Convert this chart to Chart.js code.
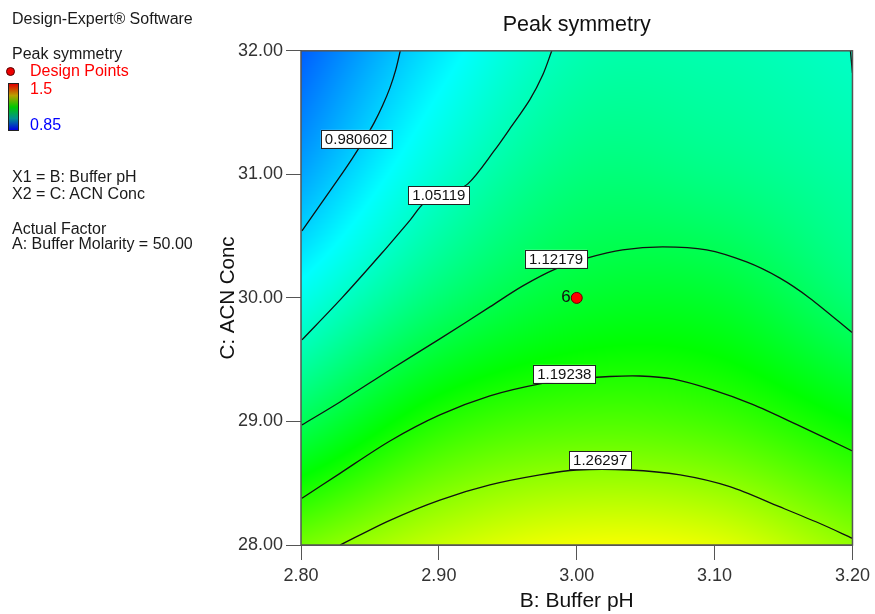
<!DOCTYPE html>
<html>
<head>
<meta charset="utf-8">
<title>Peak symmetry</title>
<script src="https://cdn.jsdelivr.net/npm/chart.js@4.4.0/dist/chart.umd.min.js"></script>
<style>
  body { margin: 0; background: #fff; font-family: "Liberation Sans", Arial, sans-serif; }
  #wrap { position: relative; width: 875px; height: 614px; }
  #side { position: absolute; left: 0; top: 0; width: 210px; height: 300px; font-size: 16px; color: #1a1a1a; }
  #side .t { position: absolute; white-space: nowrap; line-height: 18px; }
  #dot { position: absolute; left: 6px; top: 67px; width: 7px; height: 7px; border-radius: 50%; background: #e00; border: 1px solid #500; }
  #bar { position: absolute; left: 8px; top: 83px; width: 9px; height: 46px; border: 1px solid #222;
         background: linear-gradient(to bottom, #e00000, #b8a000, #00c800, #009090, #0000e0); }
</style>
</head>
<body>
<div id="wrap">
  <canvas id="plot" width="875" height="614"></canvas>
  <div id="side">
    <div class="t" style="left:12px; top:10px">Design-Expert® Software</div>
    <div class="t" style="left:12px; top:45px">Peak symmetry</div>
    <div id="dot"></div>
    <div class="t" style="left:30px; top:62px; color:#f00">Design Points</div>
    <div id="bar"></div>
    <div class="t" style="left:30px; top:80px; color:#f00">1.5</div>
    <div class="t" style="left:30px; top:116px; color:#00f">0.85</div>
    <div class="t" style="left:12px; top:168px">X1 = B: Buffer pH</div>
    <div class="t" style="left:12px; top:185px">X2 = C: ACN Conc</div>
    <div class="t" style="left:12px; top:220px">Actual Factor</div>
    <div class="t" style="left:12px; top:235px">A: Buffer Molarity = 50.00</div>
  </div>
</div>
<script>
// --- Ejes ---
const phTicks = [2.8, 2.9, 3.0, 3.1, 3.2];
const acnTicks = [28, 29, 30, 31, 32];

// --- Superficie: Peak symmetry en la malla pH x ACN (una fila por ACN, columnas por pH) ---
const symAcn28 = [1.250, 1.302, 1.330, 1.322, 1.268];
const symAcn29 = [1.119, 1.197, 1.224, 1.216, 1.175];
const symAcn30 = [1.024, 1.101, 1.144, 1.145, 1.100];
const symAcn31 = [0.955, 1.042, 1.095, 1.090, 1.070];
const symAcn32 = [0.910, 0.998, 1.060, 1.062, 1.048];
const symGrid = [symAcn28, symAcn29, symAcn30, symAcn31, symAcn32];

// Escala de color (0.85 azul ... 1.5 rojo)
const colorValues = [0.85, 1.0125, 1.175, 1.3375, 1.5];
const colorRGB = [[0, 0, 255], [0, 255, 255], [0, 255, 0], [255, 255, 0], [255, 0, 0]];

// --- Curvas de nivel (pH, ACN) ---
const contourLevels = ["0.980602", "1.05119", "1.12179", "1.19238", "1.26297"];
const line0980602 = [[2.8007, 30.543], [2.8144, 30.761], [2.8266, 30.955], [2.8370, 31.126], [2.8462, 31.287],
  [2.8530, 31.417], [2.8591, 31.555], [2.8645, 31.700], [2.8687, 31.846], [2.8720, 32.0]];
const line105119 = [[2.8007, 29.660], [2.8297, 30.000], [2.8587, 30.363], [2.8790, 30.628], [2.8899, 30.774],
  [2.9058, 30.842], [2.9210, 30.923], [2.9406, 31.198], [2.9514, 31.368], [2.9659, 31.603], [2.9754, 31.806],
  [2.9819, 32.0]];
const line105119b = [[3.1985, 32.0], [3.2, 31.82]];
const line112179 = [[2.8007, 28.972], [2.8283, 29.158], [2.8645, 29.417], [2.9007, 29.668], [2.937, 29.927],
  [2.9609, 30.097], [2.9848, 30.235], [3.008, 30.324], [3.0333, 30.389], [3.0623, 30.413], [3.0942, 30.389],
  [3.1232, 30.291], [3.1471, 30.162], [3.1688, 30.000], [3.2, 29.717]];
const line119238 = [[2.8007, 28.378], [2.8283, 28.580], [2.8645, 28.842], [2.9007, 29.053], [2.937, 29.207],
  [2.9732, 29.304], [3.0, 29.344], [3.0239, 29.364], [3.0457, 29.368], [3.0696, 29.344], [3.0986, 29.255],
  [3.1275, 29.138], [3.1594, 28.976], [3.2, 28.761]];
const line126297 = [[2.8283, 28.0], [2.8645, 28.200], [2.9007, 28.364], [2.937, 28.486], [2.9732, 28.567],
  [3.0, 28.607], [3.038, 28.607], [3.075, 28.567], [3.111, 28.472], [3.147, 28.310], [3.176, 28.176],
  [3.2, 28.054]];
const contourLines = [line0980602, line105119, line105119b, line112179, line119238, line126297];

// Donde va la etiqueta de cada nivel
const labelSpots = [[2.840, 31.287], [2.900, 30.830], [2.985, 30.316], [2.991, 29.385], [3.017, 28.688]];

// --- Puntos de diseño ---
const designPH = [3.00];
const designACN = [30.00];
const designCounts = ["6"];

// --- Interpolación de la malla ---
function gridAt(r, c) {
  if (r < 0) return 2 * gridAt(0, c) - gridAt(1, c);
  if (r > 4) return 2 * gridAt(4, c) - gridAt(3, c);
  if (c < 0) return 2 * gridAt(r, 0) - gridAt(r, 1);
  if (c > 4) return 2 * gridAt(r, 4) - gridAt(r, 3);
  return symGrid[r][c];
}

function cubic(p0, p1, p2, p3, t) {
  return p1 + 0.5 * t * (p2 - p0 + t * (2 * p0 - 5 * p1 + 4 * p2 - p3 + t * (3 * (p1 - p2) + p3 - p0)));
}

function sampleGrid(u, v) {
  const c = Math.min(3, Math.max(0, Math.floor(u)));
  const r = Math.min(3, Math.max(0, Math.floor(v)));
  const tu = u - c, tv = v - r;
  const rows = [];
  for (let k = -1; k <= 2; k++) {
    rows.push(cubic(gridAt(r + k, c - 1), gridAt(r + k, c), gridAt(r + k, c + 1), gridAt(r + k, c + 2), tu));
  }
  return cubic(rows[0], rows[1], rows[2], rows[3], tv);
}

function colorFor(val) {
  if (val <= colorValues[0]) return colorRGB[0];
  for (let i = 1; i < colorValues.length; i++) {
    if (val <= colorValues[i]) {
      const t = (val - colorValues[i - 1]) / (colorValues[i] - colorValues[i - 1]);
      const a = colorRGB[i - 1], b = colorRGB[i];
      return [a[0] + (b[0] - a[0]) * t, a[1] + (b[1] - a[1]) * t, a[2] + (b[2] - a[2]) * t];
    }
  }
  return colorRGB[colorRGB.length - 1];
}

// --- Plugins ---
const surfacePlugin = {
  id: "surface",
  beforeDatasetsDraw(chart) {
    const { ctx, chartArea: a, scales: { x, y } } = chart;
    const left = Math.round(a.left), top = Math.round(a.top);
    const w = Math.round(a.right) - left, h = Math.round(a.bottom) - top;
    const img = ctx.createImageData(w, h);
    const dx = phTicks[1] - phTicks[0], dy = acnTicks[1] - acnTicks[0];
    for (let j = 0; j < h; j++) {
      const v = (y.getValueForPixel(top + j + 0.5) - acnTicks[0]) / dy;
      for (let i = 0; i < w; i++) {
        const u = (x.getValueForPixel(left + i + 0.5) - phTicks[0]) / dx;
        const c = colorFor(sampleGrid(u, v));
        const k = (j * w + i) * 4;
        img.data[k] = c[0]; img.data[k + 1] = c[1]; img.data[k + 2] = c[2]; img.data[k + 3] = 255;
      }
    }
    ctx.putImageData(img, left, top);
  }
};

const labelsPlugin = {
  id: "contourLabels",
  afterDatasetsDraw(chart) {
    const { ctx, chartArea: a, scales: { x, y } } = chart;
    ctx.save();
    ctx.font = '15px "Liberation Sans", Arial, sans-serif';
    ctx.textAlign = "center";
    ctx.textBaseline = "middle";
    contourLevels.forEach((txt, i) => {
      const px = x.getPixelForValue(labelSpots[i][0]);
      const py = y.getPixelForValue(labelSpots[i][1]);
      const w = ctx.measureText(txt).width + 8, h = 18;
      ctx.fillStyle = "#fff";
      ctx.fillRect(px - w / 2, py - h / 2, w, h);
      ctx.strokeStyle = "#222";
      ctx.lineWidth = 1;
      ctx.strokeRect(Math.round(px - w / 2) + 0.5, Math.round(py - h / 2) + 0.5, Math.round(w), h);
      ctx.fillStyle = "#111";
      ctx.fillText(txt, px, py + 1);
    });
    // número de réplicas junto al punto de diseño
    ctx.font = '17px "Liberation Sans", Arial, sans-serif';
    ctx.textAlign = "right";
    designCounts.forEach((n, i) => {
      ctx.fillText(n, x.getPixelForValue(designPH[i]) - 6, y.getPixelForValue(designACN[i]) - 1);
    });
    // marco del gráfico
    ctx.strokeStyle = "#555";
    ctx.lineWidth = 1.5;
    ctx.strokeRect(a.left, a.top, a.right - a.left, a.bottom - a.top);
    ctx.restore();
  }
};

// --- Datasets ---
const datasets = contourLines.map(pts => ({
  data: pts.map(p => ({ x: p[0], y: p[1] })),
  showLine: true,
  borderColor: "#111",
  borderWidth: 1.3,
  pointRadius: 0,
  tension: 0.3
}));
datasets.push({
  data: designPH.map((v, i) => ({ x: v, y: designACN[i] })),
  showLine: false,
  pointRadius: 5.5,
  backgroundColor: "#f00",
  borderColor: "#600",
  borderWidth: 1
});

const tickFont = { family: '"Liberation Sans", Arial, sans-serif', size: 18 };
const font = '"Liberation Sans", Arial, sans-serif';

new Chart(document.getElementById("plot"), {
  type: "scatter",
  data: { datasets },
  plugins: [surfacePlugin, labelsPlugin],
  options: {
    responsive: false,
    animation: false,
    layout: { padding: { left: 201, right: 19, top: 0, bottom: 0 } },
    plugins: {
      legend: { display: false },
      tooltip: { enabled: false },
      title: {
        display: true,
        text: "Peak symmetry",
        fullSize: false,
        color: "#111",
        font: { family: font, size: 21.5, weight: "normal" },
        padding: { top: 12, bottom: 13 }
      }
    },
    scales: {
      x: {
        type: "linear",
        min: phTicks[0],
        max: phTicks[phTicks.length - 1],
        afterBuildTicks: s => { s.ticks = phTicks.map(v => ({ value: v })); },
        afterFit: s => { s.height = 69; },
        ticks: { callback: v => v.toFixed(2), font: tickFont, color: "#333", padding: 5, maxRotation: 0 },
        grid: { drawOnChartArea: false, drawTicks: true, tickLength: 15, color: "#555" },
        border: { display: true, color: "#555" },
        title: { display: true, text: "B: Buffer pH", font: { family: font, size: 21 }, color: "#111", padding: { top: 0, bottom: 0 } }
      },
      y: {
        type: "linear",
        min: acnTicks[0],
        max: acnTicks[acnTicks.length - 1],
        afterBuildTicks: s => { s.ticks = acnTicks.map(v => ({ value: v })); },
        afterFit: s => { s.width = 100; },
        ticks: { callback: v => v.toFixed(2), font: tickFont, color: "#333", padding: 3 },
        grid: { drawOnChartArea: false, drawTicks: true, tickLength: 15, color: "#555" },
        border: { display: true, color: "#555" },
        title: { display: true, text: "C: ACN Conc", font: { family: font, size: 20.5 }, color: "#111", padding: { top: 15, bottom: 0 } }
      }
    }
  }
});
</script>
</body>
</html>
